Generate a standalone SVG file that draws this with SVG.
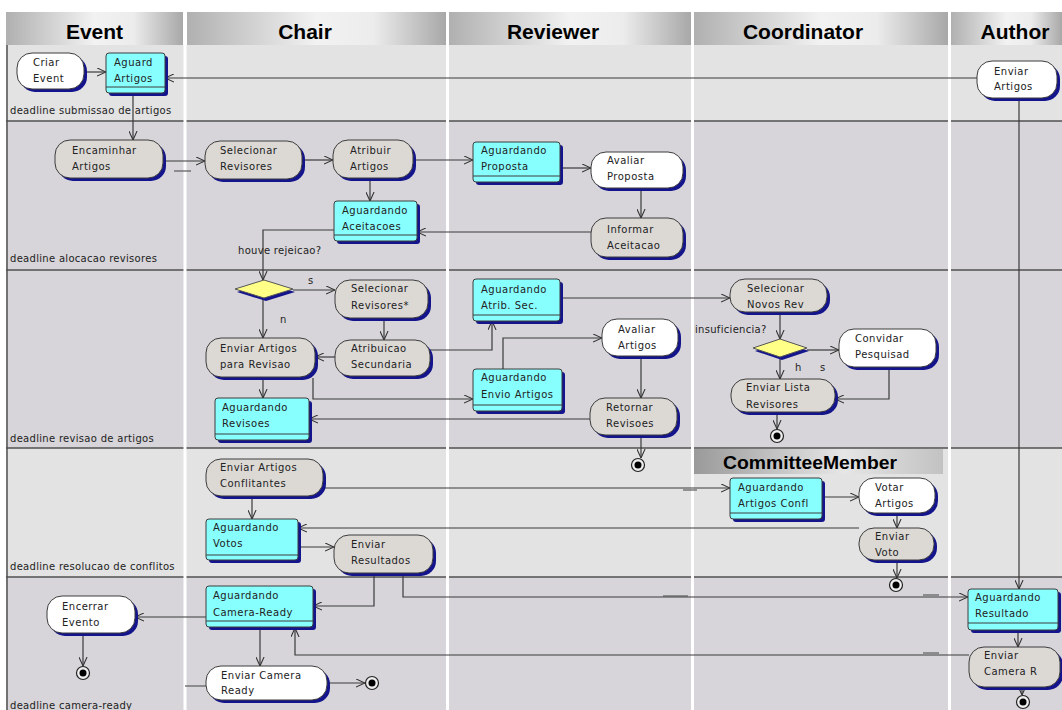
<svg xmlns="http://www.w3.org/2000/svg" width="1062" height="710" viewBox="0 0 1062 710">
  <defs>
    <style>
      .sh { fill: #14148c; }
      .ol { stroke: #3c3c3c; stroke-width: 1; }
      .w { fill: #ffffff; }
      .g { fill: #dcd9d5; }
      .c { fill: #88ffff; }
      .t { font-family: "DejaVu Sans", "Noto Sans", sans-serif; font-size: 10px; letter-spacing: 0.5px; fill: #222; }
      .lbl { font-family: "DejaVu Sans", "Noto Sans", sans-serif; font-size: 10px; letter-spacing: 0.3px; fill: #222; }
      .hd { font-family: "Liberation Sans", Arial, sans-serif; font-weight: bold; font-size: 21px; fill: #000; text-anchor: middle; }
      .cn { fill: none; stroke: #3a3a3a; stroke-width: 1.2; marker-end: url(#arrow); }
      .stub { fill: none; stroke: #5a5a5a; stroke-width: 1.2; }
      .sep { stroke: #505050; stroke-width: 1.5; }
      .cmp { stroke: #3c3c3c; stroke-width: 1; }
      .dia { fill: #ffff88; stroke: #555; stroke-width: 1; }
      .fo { fill: #eeeeee; stroke: #222; stroke-width: 1.2; }
      .fi { fill: #000; }
    </style>
    <linearGradient id="hdrGrad" x1="0" y1="0" x2="1" y2="0">
      <stop offset="0" stop-color="#b0b0b0"/>
      <stop offset="0.5" stop-color="#f2f2f2"/>
      <stop offset="0.72" stop-color="#ececec"/>
      <stop offset="1" stop-color="#a8a8a8"/>
    </linearGradient>
    <linearGradient id="subGrad" x1="0" y1="0" x2="1" y2="0">
      <stop offset="0" stop-color="#9a9a9a"/>
      <stop offset="0.6" stop-color="#e6e6e6"/>
      <stop offset="1" stop-color="#c2c2c2"/>
    </linearGradient>
    <marker id="arrow" viewBox="0 0 10 10" refX="10" refY="5" markerWidth="9" markerHeight="9" markerUnits="userSpaceOnUse" orient="auto">
      <path d="M0,0.5 L10,5 L0,9.5" fill="none" stroke="#333" stroke-width="1.2"/>
    </marker>
  </defs>

  <rect x="0" y="0" width="1062" height="710" fill="#ffffff"/>

  <!-- swimlane bands -->
  <g id="bands">
    <rect x="6" y="45" width="1056" height="76" fill="#e3e3e3"/>
    <rect x="6" y="121" width="1056" height="149" fill="#d7d5d9"/>
    <rect x="6" y="270" width="1056" height="178" fill="#d7d5d9"/>
    <rect x="6" y="448" width="1056" height="129" fill="#e3e3e3"/>
    <rect x="6" y="577" width="1056" height="133" fill="#d7d5d9"/>
    <line class="sep" x1="6" y1="121" x2="1062" y2="121"/>
    <line class="sep" x1="6" y1="270" x2="1062" y2="270"/>
    <line class="sep" x1="6" y1="448" x2="1062" y2="448"/>
    <line class="sep" x1="6" y1="577" x2="1062" y2="577"/>
    <line class="sep" x1="7" y1="45" x2="7" y2="710"/>
    <!-- lane gaps -->
    <rect x="183.5" y="12" width="3" height="698" fill="#ffffff"/>
    <rect x="446" y="12" width="3" height="698" fill="#ffffff"/>
    <rect x="691" y="12" width="3" height="698" fill="#ffffff"/>
    <rect x="948" y="12" width="3" height="698" fill="#ffffff"/>
  </g>

  <!-- lane headers -->
  <g id="headers">
    <rect x="6" y="12" width="177" height="33" fill="url(#hdrGrad)"/>
    <rect x="187" y="12" width="259" height="33" fill="url(#hdrGrad)"/>
    <rect x="449" y="12" width="242" height="33" fill="url(#hdrGrad)"/>
    <rect x="694" y="12" width="254" height="33" fill="url(#hdrGrad)"/>
    <rect x="951" y="12" width="111" height="33" fill="url(#hdrGrad)"/>
    <text class="hd" x="94.5" y="39">Event</text>
    <text class="hd" x="305" y="39">Chair</text>
    <text class="hd" x="553" y="39">Reviewer</text>
    <text class="hd" x="803" y="39">Coordinator</text>
    <text class="hd" x="1015" y="39">Author</text>
  </g>

  <!-- sub-lane header -->
  <g id="committee-member">
    <rect x="694" y="449" width="249" height="25" fill="url(#subGrad)"/>
    <text class="hd" x="810" y="469" font-size="18" textLength="174" lengthAdjust="spacingAndGlyphs" style="font-size:18px">CommitteeMember</text>
  </g>

  <!-- deadline labels -->
  <g id="deadlines">
    <text class="lbl" x="10" y="114">deadline submissao de artigos</text>
    <text class="lbl" x="10" y="262">deadline alocacao revisores</text>
    <text class="lbl" x="10" y="442">deadline revisao de artigos</text>
    <text class="lbl" x="10" y="570">deadline resolucao de conflitos</text>
    <text class="lbl" x="10" y="709">deadline camera-ready</text>
  </g>

  <!-- connectors -->
  <g id="connectors">
    <path class="cn" d="M84,72 L106,72"/>
    <path class="cn" d="M977,78 L165,78"/>
    <path class="cn" d="M133,93 L133,140"/>
    <path class="cn" d="M163,161 L205,161"/>
    <path class="stub" d="M174,171 L191,171"/>
    <path class="cn" d="M302,160 L333,160"/>
    <path class="cn" d="M413,160 L473,160"/>
    <path class="cn" d="M560,168 L591,168"/>
    <path class="cn" d="M641,188 L641,218"/>
    <path class="cn" d="M591,232 L417,232"/>
    <path class="cn" d="M370,178 L370,201"/>
    <path class="cn" d="M334,230 L263,230 L263,280"/>
    <path class="cn" d="M293,290 L335,290"/>
    <path class="cn" d="M263,298 L263,338"/>
    <path class="cn" d="M384,318 L384,340"/>
    <path class="cn" d="M335,357 L315,357"/>
    <path class="cn" d="M430,350 L492,350 L492,321"/>
    <path class="cn" d="M560,298 L730,298"/>
    <path class="cn" d="M313,378 L313,399 L473,399"/>
    <path class="cn" d="M503,369 L503,338 L602,338"/>
    <path class="cn" d="M641,356 L641,398"/>
    <path class="cn" d="M590,419 L309,419"/>
    <path class="cn" d="M641,435 L641,458"/>
    <path class="cn" d="M263,377 L263,398"/>
    <path class="cn" d="M780,312 L780,339"/>
    <path class="cn" d="M807,350 L839,350"/>
    <path class="cn" d="M780,357 L780,379"/>
    <path class="cn" d="M889,367 L889,399 L835,399"/>
    <path class="cn" d="M777,412 L777,429"/>
    <path class="cn" d="M323,488 L730,488"/>
    <path class="stub" d="M683,490 L697,490"/>
    <path class="cn" d="M822,497 L859,497"/>
    <path class="cn" d="M897,513 L897,528"/>
    <path class="cn" d="M859,528 L298,528"/>
    <path class="cn" d="M897,560 L897,578"/>
    <path class="cn" d="M252,496 L252,519"/>
    <path class="cn" d="M298,547 L334,547"/>
    <path class="cn" d="M374,573 L374,606 L313,606"/>
    <path class="cn" d="M403,573 L403,597 L968,597"/>
    <path class="stub" d="M663,596 L688,596"/>
    <path class="stub" d="M923,595 L939,595"/>
    <path class="cn" d="M1019,98 L1019,589"/>
    <path class="cn" d="M1018,630 L1018,647"/>
    <path class="cn" d="M969,655 L295,655 L295,628"/>
    <path class="stub" d="M923,653 L939,653"/>
    <path class="cn" d="M1022,687 L1022,695"/>
    <path class="cn" d="M206,617 L135,617"/>
    <path class="cn" d="M83,633 L83,666"/>
    <path class="cn" d="M260,627 L260,666"/>
    <path class="cn" d="M327,683 L365,683"/>
    <path class="stub" d="M185,686 L206,686"/>
  </g>

  <!-- Event lane -->
  <g id="criar-event">
    <rect class="sh" x="20" y="56" width="67" height="36" rx="15"/>
    <rect class="w ol" x="17" y="53" width="67" height="36" rx="15"/>
    <text class="t" x="33" y="66">Criar</text>
    <text class="t" x="33" y="82">Event</text>
  </g>
  <g id="aguard-artigos">
    <rect class="sh" x="109" y="56" width="59" height="40" rx="3"/>
    <rect class="c ol" x="106" y="53" width="59" height="40" rx="3"/>
    <line class="cmp" x1="106" y1="87" x2="165" y2="87"/>
    <text class="t" x="114" y="66">Aguard</text>
    <text class="t" x="114" y="82">Artigos</text>
  </g>
  <g id="encaminhar-artigos">
    <rect class="sh" x="58" y="143" width="108" height="38" rx="15"/>
    <rect class="g ol" x="55" y="140" width="108" height="38" rx="15"/>
    <text class="t" x="72" y="154">Encaminhar</text>
    <text class="t" x="72" y="170">Artigos</text>
  </g>
  <g id="encerrar-evento">
    <rect class="sh" x="50" y="599" width="88" height="37" rx="15"/>
    <rect class="w ol" x="47" y="596" width="88" height="37" rx="15"/>
    <text class="t" x="62" y="610">Encerrar</text>
    <text class="t" x="62" y="626">Evento</text>
  </g>
  <g id="final-evento">
    <circle class="fo" cx="83" cy="673" r="6.5"/>
    <circle class="fi" cx="83" cy="673" r="3.5"/>
  </g>

  <!-- Chair lane -->
  <g id="selecionar-revisores">
    <rect class="sh" x="208" y="144" width="97" height="38" rx="15"/>
    <rect class="g ol" x="205" y="141" width="97" height="38" rx="15"/>
    <text class="t" x="220" y="154">Selecionar</text>
    <text class="t" x="220" y="170">Revisores</text>
  </g>
  <g id="atribuir-artigos">
    <rect class="sh" x="336" y="143" width="80" height="38" rx="15"/>
    <rect class="g ol" x="333" y="140" width="80" height="38" rx="15"/>
    <text class="t" x="350" y="154">Atribuir</text>
    <text class="t" x="350" y="170">Artigos</text>
  </g>
  <g id="aguardando-aceitacoes">
    <rect class="sh" x="337" y="204" width="83" height="40" rx="3"/>
    <rect class="c ol" x="334" y="201" width="83" height="40" rx="3"/>
    <line class="cmp" x1="334" y1="235" x2="417" y2="235"/>
    <text class="t" x="342" y="214">Aguardando</text>
    <text class="t" x="342" y="230">Aceitacoes</text>
  </g>
  <g id="label-rejeicao">
    <text class="lbl" x="238" y="254">houve rejeicao?</text>
  </g>
  <g id="decisao-rejeicao">
    <polygon class="sh" points="237,292 266,283 295,292 266,301"/>
    <polygon class="dia" points="235,289 264,280 293,289 264,298"/>
    <text class="lbl" x="308" y="284">s</text>
    <text class="lbl" x="280" y="323">n</text>
  </g>
  <g id="selecionar-revisores-2">
    <rect class="sh" x="338" y="283" width="93" height="38" rx="15"/>
    <rect class="g ol" x="335" y="280" width="93" height="38" rx="15"/>
    <text class="t" x="351" y="292">Selecionar</text>
    <text class="t" x="351" y="309">Revisores*</text>
  </g>
  <g id="atribuicao-secundaria">
    <rect class="sh" x="338" y="343" width="95" height="36" rx="15"/>
    <rect class="g ol" x="335" y="340" width="95" height="36" rx="15"/>
    <text class="t" x="351" y="352">Atribuicao</text>
    <text class="t" x="351" y="368">Secundaria</text>
  </g>
  <g id="enviar-artigos-revisao">
    <rect class="sh" x="209" y="341" width="109" height="39" rx="15"/>
    <rect class="g ol" x="206" y="338" width="109" height="39" rx="15"/>
    <text class="t" x="220" y="352">Enviar Artigos</text>
    <text class="t" x="220" y="368">para Revisao</text>
  </g>
  <g id="aguardando-revisoes">
    <rect class="sh" x="218" y="401" width="94" height="42" rx="3"/>
    <rect class="c ol" x="215" y="398" width="94" height="42" rx="3"/>
    <line class="cmp" x1="215" y1="434" x2="309" y2="434"/>
    <text class="t" x="222" y="411">Aguardando</text>
    <text class="t" x="222" y="427">Revisoes</text>
  </g>
  <g id="enviar-artigos-conflitantes">
    <rect class="sh" x="209" y="462" width="117" height="37" rx="15"/>
    <rect class="g ol" x="206" y="459" width="117" height="37" rx="15"/>
    <text class="t" x="220" y="471">Enviar Artigos</text>
    <text class="t" x="220" y="487">Conflitantes</text>
  </g>
  <g id="aguardando-votos">
    <rect class="sh" x="209" y="522" width="92" height="41" rx="3"/>
    <rect class="c ol" x="206" y="519" width="92" height="41" rx="3"/>
    <line class="cmp" x1="206" y1="555" x2="298" y2="555"/>
    <text class="t" x="213" y="531">Aguardando</text>
    <text class="t" x="213" y="547">Votos</text>
  </g>
  <g id="enviar-resultados">
    <rect class="sh" x="337" y="538" width="99" height="38" rx="15"/>
    <rect class="g ol" x="334" y="535" width="99" height="38" rx="15"/>
    <text class="t" x="351" y="548">Enviar</text>
    <text class="t" x="351" y="564">Resultados</text>
  </g>
  <g id="aguardando-camera-ready">
    <rect class="sh" x="209" y="589" width="107" height="41" rx="3"/>
    <rect class="c ol" x="206" y="586" width="107" height="41" rx="3"/>
    <line class="cmp" x1="206" y1="621" x2="313" y2="621"/>
    <text class="t" x="213" y="599">Aguardando</text>
    <text class="t" x="213" y="616">Camera-Ready</text>
  </g>
  <g id="enviar-camera-ready">
    <rect class="sh" x="209" y="669" width="121" height="34" rx="15"/>
    <rect class="w ol" x="206" y="666" width="121" height="34" rx="15"/>
    <text class="t" x="221" y="679">Enviar Camera</text>
    <text class="t" x="221" y="694">Ready</text>
  </g>
  <g id="final-chair">
    <circle class="fo" cx="372" cy="683" r="6.5"/>
    <circle class="fi" cx="372" cy="683" r="3.5"/>
  </g>

  <!-- Reviewer lane -->
  <g id="aguardando-proposta">
    <rect class="sh" x="476" y="145" width="87" height="40" rx="3"/>
    <rect class="c ol" x="473" y="142" width="87" height="40" rx="3"/>
    <line class="cmp" x1="473" y1="176" x2="560" y2="176"/>
    <text class="t" x="481" y="154">Aguardando</text>
    <text class="t" x="481" y="170">Proposta</text>
  </g>
  <g id="avaliar-proposta">
    <rect class="sh" x="594" y="155" width="92" height="36" rx="15"/>
    <rect class="w ol" x="591" y="152" width="92" height="36" rx="15"/>
    <text class="t" x="607" y="164">Avaliar</text>
    <text class="t" x="607" y="180">Proposta</text>
  </g>
  <g id="informar-aceitacao">
    <rect class="sh" x="594" y="221" width="92" height="39" rx="15"/>
    <rect class="g ol" x="591" y="218" width="92" height="39" rx="15"/>
    <text class="t" x="607" y="233">Informar</text>
    <text class="t" x="607" y="249">Aceitacao</text>
  </g>
  <g id="aguardando-atrib-sec">
    <rect class="sh" x="476" y="282" width="87" height="42" rx="3"/>
    <rect class="c ol" x="473" y="279" width="87" height="42" rx="3"/>
    <line class="cmp" x1="473" y1="315" x2="560" y2="315"/>
    <text class="t" x="481" y="293">Aguardando</text>
    <text class="t" x="481" y="309">Atrib. Sec.</text>
  </g>
  <g id="aguardando-envio-artigos">
    <rect class="sh" x="476" y="372" width="89" height="42" rx="3"/>
    <rect class="c ol" x="473" y="369" width="89" height="42" rx="3"/>
    <line class="cmp" x1="473" y1="405" x2="562" y2="405"/>
    <text class="t" x="481" y="381">Aguardando</text>
    <text class="t" x="481" y="398">Envio Artigos</text>
  </g>
  <g id="avaliar-artigos">
    <rect class="sh" x="605" y="322" width="76" height="37" rx="15"/>
    <rect class="w ol" x="602" y="319" width="76" height="37" rx="15"/>
    <text class="t" x="618" y="333">Avaliar</text>
    <text class="t" x="618" y="349">Artigos</text>
  </g>
  <g id="retornar-revisoes">
    <rect class="sh" x="593" y="401" width="87" height="37" rx="15"/>
    <rect class="g ol" x="590" y="398" width="87" height="37" rx="15"/>
    <text class="t" x="606" y="411">Retornar</text>
    <text class="t" x="606" y="427">Revisoes</text>
  </g>
  <g id="final-reviewer">
    <circle class="fo" cx="638" cy="465" r="6.5"/>
    <circle class="fi" cx="638" cy="465" r="3.5"/>
  </g>

  <!-- Coordinator lane -->
  <g id="selecionar-novos-rev">
    <rect class="sh" x="733" y="282" width="97" height="33" rx="15"/>
    <rect class="g ol" x="730" y="279" width="97" height="33" rx="15"/>
    <text class="t" x="747" y="292">Selecionar</text>
    <text class="t" x="747" y="308">Novos Rev</text>
  </g>
  <g id="label-insuficiencia">
    <text class="lbl" x="695" y="333">insuficiencia?</text>
  </g>
  <g id="decisao-insuficiencia">
    <polygon class="sh" points="755,351 782,342 809,351 782,360"/>
    <polygon class="dia" points="753,348 780,339 807,348 780,357"/>
    <text class="lbl" x="795" y="371">h</text>
    <text class="lbl" x="820" y="371">s</text>
  </g>
  <g id="convidar-pesquisad">
    <rect class="sh" x="842" y="332" width="97" height="38" rx="15"/>
    <rect class="w ol" x="839" y="329" width="97" height="38" rx="15"/>
    <text class="t" x="855" y="342">Convidar</text>
    <text class="t" x="855" y="358">Pesquisad</text>
  </g>
  <g id="enviar-lista-revisores">
    <rect class="sh" x="734" y="382" width="104" height="33" rx="15"/>
    <rect class="g ol" x="731" y="379" width="104" height="33" rx="15"/>
    <text class="t" x="746" y="391">Enviar Lista</text>
    <text class="t" x="746" y="408">Revisores</text>
  </g>
  <g id="final-coordinator">
    <circle class="fo" cx="777" cy="436" r="6.5"/>
    <circle class="fi" cx="777" cy="436" r="3.5"/>
  </g>
  <g id="aguardando-artigos-confl">
    <rect class="sh" x="733" y="481" width="92" height="41" rx="3"/>
    <rect class="c ol" x="730" y="478" width="92" height="41" rx="3"/>
    <line class="cmp" x1="730" y1="513" x2="822" y2="513"/>
    <text class="t" x="738" y="491">Aguardando</text>
    <text class="t" x="738" y="507">Artigos Confl</text>
  </g>
  <g id="votar-artigos">
    <rect class="sh" x="862" y="481" width="76" height="35" rx="15"/>
    <rect class="w ol" x="859" y="478" width="76" height="35" rx="15"/>
    <text class="t" x="875" y="491">Votar</text>
    <text class="t" x="875" y="507">Artigos</text>
  </g>
  <g id="enviar-voto">
    <rect class="sh" x="862" y="531" width="75" height="32" rx="15"/>
    <rect class="g ol" x="859" y="528" width="75" height="32" rx="15"/>
    <text class="t" x="875" y="540">Enviar</text>
    <text class="t" x="875" y="556">Voto</text>
  </g>
  <g id="final-committee">
    <circle class="fo" cx="896" cy="585" r="6.5"/>
    <circle class="fi" cx="896" cy="585" r="3.5"/>
  </g>

  <!-- Author lane -->
  <g id="enviar-artigos">
    <rect class="sh" x="980" y="64" width="80" height="37" rx="15"/>
    <rect class="w ol" x="977" y="61" width="80" height="37" rx="15"/>
    <text class="t" x="994" y="75">Enviar</text>
    <text class="t" x="994" y="90">Artigos</text>
  </g>
  <g id="aguardando-resultado">
    <rect class="sh" x="971" y="592" width="90" height="41" rx="3"/>
    <rect class="c ol" x="968" y="589" width="90" height="41" rx="3"/>
    <line class="cmp" x1="968" y1="623" x2="1058" y2="623"/>
    <text class="t" x="975" y="601">Aguardando</text>
    <text class="t" x="975" y="617">Resultado</text>
  </g>
  <g id="enviar-camera-r">
    <rect class="sh" x="972" y="650" width="91" height="40" rx="15"/>
    <rect class="g ol" x="969" y="647" width="91" height="40" rx="15"/>
    <text class="t" x="984" y="659">Enviar</text>
    <text class="t" x="984" y="675">Camera R</text>
  </g>
  <g id="final-author">
    <circle class="fo" cx="1023" cy="702" r="6.5"/>
    <circle class="fi" cx="1023" cy="702" r="3.5"/>
  </g>
</svg>
